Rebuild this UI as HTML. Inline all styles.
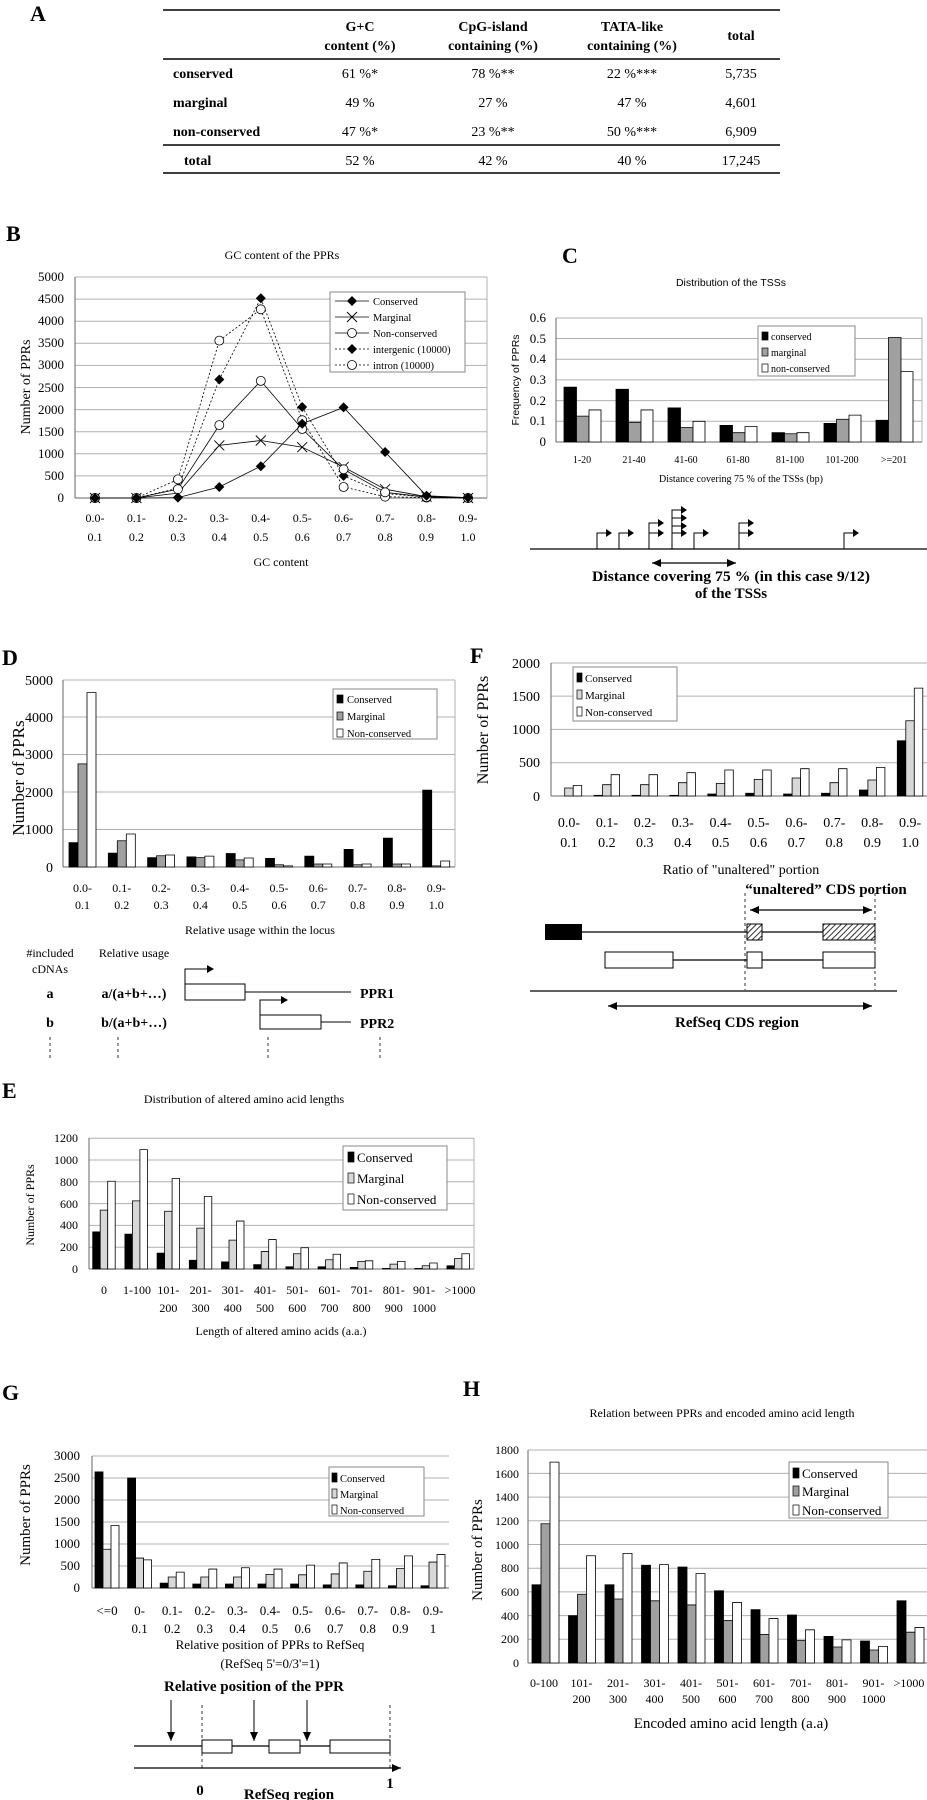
<!DOCTYPE html>
<html><head><meta charset="utf-8"><style>
body{margin:0;background:#fff}
svg{display:block}
text{font-family:"Liberation Serif",serif;fill:#000}
.s{font-family:"Liberation Sans",sans-serif}
.b{font-weight:bold}
.grid line{stroke:#b0b0b0;stroke-width:1}
.bars rect{stroke:#000;stroke-width:0.8;vector-effect:non-scaling-stroke}
.c{fill:#000}.m{fill:#a0a0a0}.ml{fill:#d8d8d8}.n{fill:#fff}
</style></head><body>
<svg width="927" height="1800" viewBox="0 0 927 1800" xmlns="http://www.w3.org/2000/svg">
<defs>
<marker id="dm" markerUnits="userSpaceOnUse" markerWidth="12" markerHeight="12" refX="6" refY="6"><path d="M6,1 L11,6 L6,11 L1,6Z" fill="#000"/></marker>
<marker id="om" markerUnits="userSpaceOnUse" markerWidth="12" markerHeight="12" refX="6" refY="6"><circle cx="6" cy="6" r="4.5" fill="#fff" stroke="#000" stroke-width="0.8"/></marker>
<marker id="xm" markerUnits="userSpaceOnUse" markerWidth="12" markerHeight="12" refX="6" refY="6"><path d="M1,1 L11,11 M11,1 L1,11" stroke="#000" stroke-width="0.9"/></marker>
<marker id="ah" markerUnits="userSpaceOnUse" markerWidth="10" markerHeight="10" refX="9" refY="5" orient="auto-start-reverse"><path d="M0,1 L9,5 L0,9Z" fill="#000"/></marker>
<pattern id="hatch" patternUnits="userSpaceOnUse" width="4" height="4" patternTransform="rotate(45)"><rect width="4" height="4" fill="#fff"/><line x1="0" y1="0" x2="0" y2="4" stroke="#000" stroke-width="1.6"/></pattern>
</defs>

<!-- A table -->
<text x="30" y="21" font-size="22" class="b">A</text>
<line x1="163" y1="10" x2="780" y2="10" stroke="#000" stroke-width="1.5"/>
<line x1="163" y1="59" x2="780" y2="59" stroke="#000" stroke-width="1.5"/>
<line x1="163" y1="145" x2="780" y2="145" stroke="#000" stroke-width="1.5"/>
<line x1="163" y1="173" x2="780" y2="173" stroke="#000" stroke-width="1.5"/>
<g font-size="14" class="b" text-anchor="middle">
<text x="360" y="31">G+C</text><text x="360" y="50">content (%)</text>
<text x="493" y="31">CpG-island</text><text x="493" y="50">containing (%)</text>
<text x="632" y="31">TATA-like</text><text x="632" y="50">containing (%)</text>
<text x="741" y="40">total</text>
</g>
<g font-size="14" class="b">
<text x="173" y="78">conserved</text><text x="173" y="107">marginal</text><text x="173" y="136">non-conserved</text><text x="184" y="165">total</text>
</g>
<g font-size="14" text-anchor="middle">
<text x="360" y="78">61 %*</text><text x="493" y="78">78 %**</text><text x="632" y="78">22 %***</text><text x="741" y="78">5,735</text>
<text x="360" y="107">49 %</text><text x="493" y="107">27 %</text><text x="632" y="107">47 %</text><text x="741" y="107">4,601</text>
<text x="360" y="136">47 %*</text><text x="493" y="136">23 %**</text><text x="632" y="136">50 %***</text><text x="741" y="136">6,909</text>
<text x="360" y="165">52 %</text><text x="493" y="165">42 %</text><text x="632" y="165">40 %</text><text x="741" y="165">17,245</text>
</g>

<!-- B -->
<text x="6" y="241" font-size="22" class="b">B</text>
<text x="282" y="259" font-size="12" text-anchor="middle">GC content of the PPRs</text>
<g class="grid"><line x1="75" x2="487" y1="475.9" y2="475.9"/><line x1="75" x2="487" y1="453.8" y2="453.8"/><line x1="75" x2="487" y1="431.7" y2="431.7"/><line x1="75" x2="487" y1="409.6" y2="409.6"/><line x1="75" x2="487" y1="387.5" y2="387.5"/><line x1="75" x2="487" y1="365.4" y2="365.4"/><line x1="75" x2="487" y1="343.3" y2="343.3"/><line x1="75" x2="487" y1="321.2" y2="321.2"/><line x1="75" x2="487" y1="299.1" y2="299.1"/><line x1="75" x2="487" y1="277" y2="277"/><line x1="487" x2="487" y1="277" y2="498"/></g>
<line x1="75" y1="277" x2="75" y2="498" stroke="#666"/><line x1="75" y1="498" x2="487" y2="498" stroke="#666"/>
<g font-size="13" text-anchor="end"><text x="64" y="502">0</text><text x="64" y="480">500</text><text x="64" y="458">1000</text><text x="64" y="436">1500</text><text x="64" y="414">2000</text><text x="64" y="392">2500</text><text x="64" y="369">3000</text><text x="64" y="347">3500</text><text x="64" y="325">4000</text><text x="64" y="303">4500</text><text x="64" y="281">5000</text></g>
<text transform="translate(30,387) rotate(-90)" font-size="14" text-anchor="middle">Number of PPRs</text>
<g fill="none" stroke="#000" stroke-width="0.8">
<polyline points="95,498 136.4,498 177.9,488.3 219.3,379.5 260.8,298.2 302.2,407 343.6,475.9 385.1,493.6 426.5,497.1 468,498" stroke-dasharray="2,2" marker-start="url(#dm)" marker-mid="url(#dm)" marker-end="url(#dm)"/>
<polyline points="95,498 136.4,498 177.9,479.4 219.3,340.6 260.8,309.3 302.2,420.2 343.6,487 385.1,496.7 426.5,497.6 468,498" stroke-dasharray="2,2" marker-start="url(#om)" marker-mid="url(#om)" marker-end="url(#om)"/>
<polyline points="95,498 136.4,498 177.9,493.1 219.3,445.4 260.8,440.5 302.2,447.2 343.6,467.1 385.1,489.2 426.5,496.7 468,498" marker-start="url(#xm)" marker-mid="url(#xm)" marker-end="url(#xm)"/>
<polyline points="95,498 136.4,498 177.9,489.2 219.3,425.1 260.8,380.9 302.2,429 343.6,469.3 385.1,492.3 426.5,497.1 468,498" marker-start="url(#om)" marker-mid="url(#om)" marker-end="url(#om)"/>
<polyline points="95,498 136.4,498 177.9,497.6 219.3,487 260.8,466.2 302.2,423.7 343.6,407.4 385.1,452 426.5,495.8 468,497.6" marker-start="url(#dm)" marker-mid="url(#dm)" marker-end="url(#dm)"/>
</g>
<rect x="330" y="292" width="135" height="80" fill="#fff" stroke="#888"/>
<g fill="none" stroke="#000" stroke-width="0.8">
<polyline points="335,301 352,301 369,301" marker-mid="url(#dm)"/>
<polyline points="335,317 352,317 369,317" marker-mid="url(#xm)"/>
<polyline points="335,333 352,333 369,333" marker-mid="url(#om)"/>
<polyline points="335,349 352,349 369,349" stroke-dasharray="2,2" marker-mid="url(#dm)"/>
<polyline points="335,365 352,365 369,365" stroke-dasharray="2,2" marker-mid="url(#om)"/>
</g>
<g font-size="10.5" class="s"><text x="373" y="305">Conserved</text><text x="373" y="321">Marginal</text><text x="373" y="337">Non-conserved</text><text x="373" y="353">intergenic (10000)</text><text x="373" y="369">intron (10000)</text></g>
<g font-size="12" text-anchor="middle">
<text x="95" y="522">0.0-</text><text x="136.4" y="522">0.1-</text><text x="177.9" y="522">0.2-</text><text x="219.3" y="522">0.3-</text><text x="260.8" y="522">0.4-</text><text x="302.2" y="522">0.5-</text><text x="343.6" y="522">0.6-</text><text x="385.1" y="522">0.7-</text><text x="426.5" y="522">0.8-</text><text x="468" y="522">0.9-</text>
<text x="95" y="541">0.1</text><text x="136.4" y="541">0.2</text><text x="177.9" y="541">0.3</text><text x="219.3" y="541">0.4</text><text x="260.8" y="541">0.5</text><text x="302.2" y="541">0.6</text><text x="343.6" y="541">0.7</text><text x="385.1" y="541">0.8</text><text x="426.5" y="541">0.9</text><text x="468" y="541">1.0</text>
<text x="281" y="566">GC content</text></g>

<!-- C -->
<text x="562" y="263" font-size="22" class="b">C</text>
<text x="731" y="286" font-size="10.5" class="s" text-anchor="middle">Distribution of the TSSs</text>
<g class="grid"><line x1="556" x2="922" y1="421.3" y2="421.3"/><line x1="556" x2="922" y1="400.6" y2="400.6"/><line x1="556" x2="922" y1="379.9" y2="379.9"/><line x1="556" x2="922" y1="359.2" y2="359.2"/><line x1="556" x2="922" y1="338.5" y2="338.5"/><line x1="556" x2="922" y1="318" y2="318"/><line x1="922" x2="922" y1="318" y2="442"/></g>
<line x1="556" y1="318" x2="556" y2="442" stroke="#666"/><line x1="556" y1="442" x2="922" y2="442" stroke="#666"/>
<g font-size="13" text-anchor="end"><text x="546" y="446">0</text><text x="546" y="425">0.1</text><text x="546" y="405">0.2</text><text x="546" y="384">0.3</text><text x="546" y="363">0.4</text><text x="546" y="343">0.5</text><text x="546" y="322">0.6</text></g>
<text transform="translate(519,380) rotate(-90)" font-size="10.5" class="s" text-anchor="middle">Frequency of PPRs</text>
<g class="bars" transform="translate(0,442) scale(1,-207)">
<g class="c"><rect x="564" y="0" width="12.5" height="0.265"/><rect x="616" y="0" width="12.5" height="0.255"/><rect x="668" y="0" width="12.5" height="0.165"/><rect x="720" y="0" width="12.5" height="0.08"/><rect x="772" y="0" width="12.5" height="0.045"/><rect x="824" y="0" width="12.5" height="0.09"/><rect x="876" y="0" width="12.5" height="0.105"/></g>
<g class="m"><rect x="576.5" y="0" width="12.5" height="0.125"/><rect x="628.5" y="0" width="12.5" height="0.095"/><rect x="680.5" y="0" width="12.5" height="0.07"/><rect x="732.5" y="0" width="12.5" height="0.045"/><rect x="784.5" y="0" width="12.5" height="0.04"/><rect x="836.5" y="0" width="12.5" height="0.11"/><rect x="888.5" y="0" width="12.5" height="0.505"/></g>
<g class="n"><rect x="589" y="0" width="12" height="0.155"/><rect x="641" y="0" width="12" height="0.155"/><rect x="693" y="0" width="12" height="0.1"/><rect x="745" y="0" width="12" height="0.075"/><rect x="797" y="0" width="12" height="0.045"/><rect x="849" y="0" width="12" height="0.13"/><rect x="901" y="0" width="12" height="0.34"/></g>
</g>
<rect x="758" y="326" width="97" height="50" fill="#fff" stroke="#888"/>
<rect x="762" y="332" width="6" height="8" class="c" stroke="#000" stroke-width="0.7"/><rect x="762" y="348" width="6" height="8" class="m" stroke="#000" stroke-width="0.7"/><rect x="762" y="364" width="6" height="8" class="n" stroke="#000" stroke-width="0.7"/>
<g font-size="10" class="s"><text x="771" y="340">conserved</text><text x="771" y="356">marginal</text><text x="771" y="372">non-conserved</text></g>
<g font-size="10" class="s" text-anchor="middle"><text x="582" y="463">1-20</text><text x="634" y="463">21-40</text><text x="686" y="463">41-60</text><text x="738" y="463">61-80</text><text x="790" y="463">81-100</text><text x="842" y="463">101-200</text><text x="894" y="463">&gt;=201</text>
<text x="741" y="482">Distance covering 75 % of the TSSs (bp)</text></g>
<!-- TSS diagram -->
<line x1="530" y1="549" x2="927" y2="549" stroke="#000" stroke-width="1.2"/>
<g stroke="#000" stroke-width="1" fill="none">
<path d="M597,549V533H606 M619,549V533H628 M649,549V523H658 M649,533H658 M672,549V510H681 M672,518H681 M672,526H681 M672,533H681 M694,549V533H703 M739,549V523H748 M739,533H748 M844,549V533H853"/>
</g>
<g fill="#000">
<path d="M606,529L612,533L606,537Z M628,529L634,533L628,537Z M658,519L664,523L658,527Z M658,529L664,533L658,537Z M681,506L687,510L681,514Z M681,514L687,518L681,522Z M681,522L687,526L681,530Z M681,529L687,533L681,537Z M703,529L709,533L703,537Z M748,519L754,523L748,527Z M748,529L754,533L748,537Z M853,529L859,533L853,537Z"/>
</g>
<line x1="652" y1="563" x2="736" y2="563" stroke="#000" stroke-width="1.2" marker-start="url(#ah)" marker-end="url(#ah)"/>
<text x="731" y="581" font-size="15" class="b" text-anchor="middle" textLength="278" lengthAdjust="spacingAndGlyphs">Distance covering 75 % (in this case 9/12)</text>
<text x="731" y="598" font-size="15" class="b" text-anchor="middle">of the TSSs</text>

<!-- D -->
<text x="2" y="665" font-size="22" class="b">D</text>
<g class="grid"><line x1="63" x2="455" y1="829.5" y2="829.5"/><line x1="63" x2="455" y1="792" y2="792"/><line x1="63" x2="455" y1="754.5" y2="754.5"/><line x1="63" x2="455" y1="717" y2="717"/><line x1="63" x2="455" y1="680" y2="680"/><line x1="455" x2="455" y1="680" y2="867"/></g>
<line x1="63" y1="680" x2="63" y2="867" stroke="#666"/><line x1="63" y1="867" x2="455" y2="867" stroke="#666"/>
<g font-size="14" text-anchor="end"><text x="53" y="872">0</text><text x="53" y="834">1000</text><text x="53" y="797">2000</text><text x="53" y="759">3000</text><text x="53" y="722">4000</text><text x="53" y="685">5000</text></g>
<text transform="translate(24,778) rotate(-90)" font-size="17" text-anchor="middle">Number of PPRs</text>
<g class="bars" transform="translate(0,867) scale(1,-0.0375)">
<g class="c"><rect x="69" y="0" width="9" height="650"/><rect x="108.3" y="0" width="9" height="370"/><rect x="147.6" y="0" width="9" height="250"/><rect x="186.9" y="0" width="9" height="270"/><rect x="226.2" y="0" width="9" height="360"/><rect x="265.5" y="0" width="9" height="230"/><rect x="304.8" y="0" width="9" height="290"/><rect x="344.1" y="0" width="9" height="470"/><rect x="383.4" y="0" width="9" height="770"/><rect x="422.7" y="0" width="9" height="2050"/></g>
<g class="m"><rect x="78" y="0" width="9" height="2750"/><rect x="117.3" y="0" width="9" height="700"/><rect x="156.6" y="0" width="9" height="300"/><rect x="195.9" y="0" width="9" height="250"/><rect x="235.2" y="0" width="9" height="190"/><rect x="274.5" y="0" width="9" height="60"/><rect x="313.8" y="0" width="9" height="80"/><rect x="353.1" y="0" width="9" height="60"/><rect x="392.4" y="0" width="9" height="80"/><rect x="431.7" y="0" width="9" height="30"/></g>
<g class="n"><rect x="87" y="0" width="9" height="4650"/><rect x="126.3" y="0" width="9" height="880"/><rect x="165.6" y="0" width="9" height="320"/><rect x="204.9" y="0" width="9" height="290"/><rect x="244.2" y="0" width="9" height="240"/><rect x="283.5" y="0" width="9" height="30"/><rect x="322.8" y="0" width="9" height="80"/><rect x="362.1" y="0" width="9" height="80"/><rect x="401.4" y="0" width="9" height="80"/><rect x="440.7" y="0" width="9" height="160"/></g>
</g>
<rect x="333" y="689" width="104" height="50" fill="#fff" stroke="#888"/>
<rect x="337" y="695" width="6" height="8" class="c" stroke="#000" stroke-width="0.7"/><rect x="337" y="712" width="6" height="8" class="m" stroke="#000" stroke-width="0.7"/><rect x="337" y="729" width="6" height="8" class="n" stroke="#000" stroke-width="0.7"/>
<g font-size="10.5" class="s"><text x="347" y="703">Conserved</text><text x="347" y="720">Marginal</text><text x="347" y="737">Non-conserved</text></g>
<g font-size="12" text-anchor="middle">
<text x="82.5" y="892">0.0-</text><text x="121.8" y="892">0.1-</text><text x="161.1" y="892">0.2-</text><text x="200.4" y="892">0.3-</text><text x="239.7" y="892">0.4-</text><text x="279" y="892">0.5-</text><text x="318.3" y="892">0.6-</text><text x="357.6" y="892">0.7-</text><text x="396.9" y="892">0.8-</text><text x="436.2" y="892">0.9-</text>
<text x="82.5" y="909">0.1</text><text x="121.8" y="909">0.2</text><text x="161.1" y="909">0.3</text><text x="200.4" y="909">0.4</text><text x="239.7" y="909">0.5</text><text x="279" y="909">0.6</text><text x="318.3" y="909">0.7</text><text x="357.6" y="909">0.8</text><text x="396.9" y="909">0.9</text><text x="436.2" y="909">1.0</text>
<text x="260" y="934">Relative usage within the locus</text>
<text x="50" y="957">#included</text><text x="50" y="973">cDNAs</text><text x="134" y="957">Relative usage</text></g>
<g font-size="14" class="b"><text x="50" y="998" text-anchor="middle">a</text><text x="50" y="1027" text-anchor="middle">b</text>
<text x="134" y="998" text-anchor="middle">a/(a+b+…)</text><text x="134" y="1027" text-anchor="middle">b/(a+b+…)</text>
<text x="360" y="998">PPR1</text><text x="360" y="1028">PPR2</text></g>
<g stroke="#000" stroke-width="1" fill="#fff">
<line x1="245" y1="992" x2="351" y2="992"/><rect x="185" y="984" width="60" height="16"/>
<line x1="321" y1="1022" x2="351" y2="1022"/><rect x="260" y="1015" width="61" height="14"/>
<path d="M185,984V969H208 M260,1015V1000H282" fill="none"/>
</g>
<path d="M207,965L214,969L207,973Z M281,996L288,1000L281,1004Z" fill="#000"/>
<g stroke="#000" stroke-width="0.8" stroke-dasharray="3,3"><line x1="50" y1="1037" x2="50" y2="1060"/><line x1="118" y1="1037" x2="118" y2="1060"/><line x1="268" y1="1037" x2="268" y2="1060"/><line x1="380" y1="1037" x2="380" y2="1060"/></g>

<!-- F -->
<text x="470" y="663" font-size="22" class="b">F</text>
<g class="grid"><line x1="551" x2="927" y1="762.7" y2="762.7"/><line x1="551" x2="927" y1="729.4" y2="729.4"/><line x1="551" x2="927" y1="696.1" y2="696.1"/><line x1="551" x2="927" y1="663" y2="663"/></g>
<line x1="551" y1="663" x2="551" y2="796" stroke="#666"/><line x1="551" y1="796" x2="927" y2="796" stroke="#666"/>
<g font-size="14" text-anchor="end"><text x="540" y="801">0</text><text x="540" y="767">500</text><text x="540" y="734">1000</text><text x="540" y="701">1500</text><text x="540" y="668">2000</text></g>
<text transform="translate(488,730) rotate(-90)" font-size="16" text-anchor="middle">Number of PPRs</text>
<g class="bars" transform="translate(0,796) scale(1,-0.0666)">
<g class="c"><rect x="556.2" y="0" width="8.5" height="0"/><rect x="594.1" y="0" width="8.5" height="10"/><rect x="632" y="0" width="8.5" height="10"/><rect x="669.9" y="0" width="8.5" height="10"/><rect x="707.8" y="0" width="8.5" height="30"/><rect x="745.7" y="0" width="8.5" height="40"/><rect x="783.6" y="0" width="8.5" height="30"/><rect x="821.5" y="0" width="8.5" height="40"/><rect x="859.4" y="0" width="8.5" height="90"/><rect x="897.3" y="0" width="8.5" height="830"/></g>
<g class="ml"><rect x="564.7" y="0" width="8.5" height="120"/><rect x="602.6" y="0" width="8.5" height="170"/><rect x="640.5" y="0" width="8.5" height="170"/><rect x="678.4" y="0" width="8.5" height="200"/><rect x="716.3" y="0" width="8.5" height="190"/><rect x="754.2" y="0" width="8.5" height="250"/><rect x="792.1" y="0" width="8.5" height="270"/><rect x="830" y="0" width="8.5" height="200"/><rect x="867.9" y="0" width="8.5" height="240"/><rect x="905.8" y="0" width="8.5" height="1130"/></g>
<g class="n"><rect x="573.2" y="0" width="8.5" height="160"/><rect x="611.1" y="0" width="8.5" height="320"/><rect x="649" y="0" width="8.5" height="320"/><rect x="686.9" y="0" width="8.5" height="350"/><rect x="724.8" y="0" width="8.5" height="390"/><rect x="762.7" y="0" width="8.5" height="390"/><rect x="800.6" y="0" width="8.5" height="410"/><rect x="838.5" y="0" width="8.5" height="410"/><rect x="876.4" y="0" width="8.5" height="430"/><rect x="914.3" y="0" width="8.5" height="1620"/></g>
</g>
<rect x="573" y="667" width="104" height="54" fill="#fff" stroke="#888"/>
<rect x="577" y="673" width="5" height="9" class="c" stroke="#000" stroke-width="0.7"/><rect x="577" y="690" width="5" height="9" class="ml" stroke="#000" stroke-width="0.7"/><rect x="577" y="707" width="5" height="9" class="n" stroke="#000" stroke-width="0.7"/>
<g font-size="11" class="s"><text x="585" y="682">Conserved</text><text x="585" y="699">Marginal</text><text x="585" y="716">Non-conserved</text></g>
<g font-size="14" text-anchor="middle">
<text x="569" y="827">0.0-</text><text x="606.9" y="827">0.1-</text><text x="644.8" y="827">0.2-</text><text x="682.7" y="827">0.3-</text><text x="720.6" y="827">0.4-</text><text x="758.5" y="827">0.5-</text><text x="796.4" y="827">0.6-</text><text x="834.3" y="827">0.7-</text><text x="872.2" y="827">0.8-</text><text x="910.1" y="827">0.9-</text>
<text x="569" y="847">0.1</text><text x="606.9" y="847">0.2</text><text x="644.8" y="847">0.3</text><text x="682.7" y="847">0.4</text><text x="720.6" y="847">0.5</text><text x="758.5" y="847">0.6</text><text x="796.4" y="847">0.7</text><text x="834.3" y="847">0.8</text><text x="872.2" y="847">0.9</text><text x="910.1" y="847">1.0</text>
<text x="741" y="874">Ratio of "unaltered" portion</text></g>
<text x="826" y="894" font-size="15" class="b" text-anchor="middle">“unaltered” CDS portion</text>
<line x1="750" y1="910" x2="872" y2="910" stroke="#000" stroke-width="1.2" marker-start="url(#ah)" marker-end="url(#ah)"/>
<g stroke="#000" stroke-width="0.8" stroke-dasharray="3,3"><line x1="745" y1="893" x2="745" y2="990"/><line x1="875" y1="893" x2="875" y2="990"/></g>
<g stroke="#000" stroke-width="1.2"><line x1="582" y1="932" x2="823" y2="932"/><line x1="673" y1="960" x2="823" y2="960"/><line x1="530" y1="991" x2="897" y2="991"/></g>
<rect x="545" y="924" width="37" height="16" fill="#000"/>
<g stroke="#000" stroke-width="1"><rect x="747" y="924" width="15" height="16" fill="url(#hatch)"/><rect x="823" y="924" width="52" height="16" fill="url(#hatch)"/>
<rect x="605" y="952" width="68" height="16" fill="#fff"/><rect x="747" y="952" width="15" height="16" fill="#fff"/><rect x="823" y="952" width="52" height="16" fill="#fff"/></g>
<line x1="608" y1="1006" x2="872" y2="1006" stroke="#000" stroke-width="1.2" marker-start="url(#ah)" marker-end="url(#ah)"/>
<text x="737" y="1027" font-size="15" class="b" text-anchor="middle">RefSeq CDS region</text>

<!-- E -->
<text x="2" y="1098" font-size="22" class="b">E</text>
<text x="244" y="1103" font-size="12" text-anchor="middle">Distribution of altered amino acid lengths</text>
<g class="grid"><line x1="89" x2="474" y1="1247.2" y2="1247.2"/><line x1="89" x2="474" y1="1225.4" y2="1225.4"/><line x1="89" x2="474" y1="1203.6" y2="1203.6"/><line x1="89" x2="474" y1="1181.8" y2="1181.8"/><line x1="89" x2="474" y1="1160" y2="1160"/><line x1="89" x2="474" y1="1138.2" y2="1138.2"/><line x1="474" x2="474" y1="1138" y2="1269"/></g>
<line x1="89" y1="1138" x2="89" y2="1269" stroke="#666"/><line x1="89" y1="1269" x2="474" y2="1269" stroke="#666"/>
<g font-size="12" text-anchor="end"><text x="78" y="1273">0</text><text x="78" y="1251">200</text><text x="78" y="1229">400</text><text x="78" y="1208">600</text><text x="78" y="1186">800</text><text x="78" y="1164">1000</text><text x="78" y="1142">1200</text></g>
<text transform="translate(34,1205) rotate(-90)" font-size="12" text-anchor="middle">Number of PPRs</text>
<g class="bars" transform="translate(0,1269) scale(1,-0.109)">
<g class="c"><rect x="92.7" y="0" width="7.5" height="340"/><rect x="124.9" y="0" width="7.5" height="320"/><rect x="157.1" y="0" width="7.5" height="145"/><rect x="189.3" y="0" width="7.5" height="80"/><rect x="221.5" y="0" width="7.5" height="65"/><rect x="253.7" y="0" width="7.5" height="40"/><rect x="285.9" y="0" width="7.5" height="20"/><rect x="318.1" y="0" width="7.5" height="20"/><rect x="350.3" y="0" width="7.5" height="15"/><rect x="382.5" y="0" width="7.5" height="5"/><rect x="414.7" y="0" width="7.5" height="5"/><rect x="446.9" y="0" width="7.5" height="30"/></g>
<g class="ml"><rect x="100.2" y="0" width="7.5" height="540"/><rect x="132.4" y="0" width="7.5" height="625"/><rect x="164.6" y="0" width="7.5" height="530"/><rect x="196.8" y="0" width="7.5" height="375"/><rect x="229" y="0" width="7.5" height="265"/><rect x="261.2" y="0" width="7.5" height="160"/><rect x="293.4" y="0" width="7.5" height="140"/><rect x="325.6" y="0" width="7.5" height="85"/><rect x="357.8" y="0" width="7.5" height="70"/><rect x="390" y="0" width="7.5" height="45"/><rect x="422.2" y="0" width="7.5" height="30"/><rect x="454.4" y="0" width="7.5" height="95"/></g>
<g class="n"><rect x="107.7" y="0" width="7.5" height="805"/><rect x="139.9" y="0" width="7.5" height="1095"/><rect x="172.1" y="0" width="7.5" height="830"/><rect x="204.3" y="0" width="7.5" height="665"/><rect x="236.5" y="0" width="7.5" height="440"/><rect x="268.7" y="0" width="7.5" height="270"/><rect x="300.9" y="0" width="7.5" height="195"/><rect x="333.1" y="0" width="7.5" height="135"/><rect x="365.3" y="0" width="7.5" height="75"/><rect x="397.5" y="0" width="7.5" height="70"/><rect x="429.7" y="0" width="7.5" height="55"/><rect x="461.9" y="0" width="7.5" height="140"/></g>
</g>
<rect x="343" y="1146" width="104" height="64" fill="#fff" stroke="#888"/>
<rect x="348" y="1152" width="6" height="10" class="c" stroke="#000" stroke-width="0.7"/><rect x="348" y="1173" width="6" height="10" class="ml" stroke="#000" stroke-width="0.7"/><rect x="348" y="1194" width="6" height="10" class="n" stroke="#000" stroke-width="0.7"/>
<g font-size="13"><text x="357" y="1162">Conserved</text><text x="357" y="1183">Marginal</text><text x="357" y="1204">Non-conserved</text></g>
<g font-size="12" text-anchor="middle">
<text x="104" y="1294">0</text><text x="137" y="1294">1-100</text><text x="168.4" y="1294">101-</text><text x="200.6" y="1294">201-</text><text x="232.8" y="1294">301-</text><text x="265" y="1294">401-</text><text x="297.2" y="1294">501-</text><text x="329.4" y="1294">601-</text><text x="361.6" y="1294">701-</text><text x="393.8" y="1294">801-</text><text x="424" y="1294">901-</text><text x="460" y="1294">&gt;1000</text>
<text x="168.4" y="1312">200</text><text x="200.6" y="1312">300</text><text x="232.8" y="1312">400</text><text x="265" y="1312">500</text><text x="297.2" y="1312">600</text><text x="329.4" y="1312">700</text><text x="361.6" y="1312">800</text><text x="393.8" y="1312">900</text><text x="424" y="1312">1000</text>
<text x="281" y="1335">Length of altered amino acids (a.a.)</text></g>

<!-- G -->
<text x="2" y="1400" font-size="22" class="b">G</text>
<g class="grid"><line x1="92" x2="449" y1="1566" y2="1566"/><line x1="92" x2="449" y1="1544" y2="1544"/><line x1="92" x2="449" y1="1522" y2="1522"/><line x1="92" x2="449" y1="1500" y2="1500"/><line x1="92" x2="449" y1="1478" y2="1478"/><line x1="92" x2="449" y1="1456" y2="1456"/></g>
<line x1="92" y1="1456" x2="92" y2="1588" stroke="#666"/><line x1="92" y1="1588" x2="449" y2="1588" stroke="#666"/>
<g font-size="13" text-anchor="end"><text x="80" y="1592">0</text><text x="80" y="1570">500</text><text x="80" y="1548">1000</text><text x="80" y="1526">1500</text><text x="80" y="1504">2000</text><text x="80" y="1482">2500</text><text x="80" y="1460">3000</text></g>
<text transform="translate(30,1515) rotate(-90)" font-size="15" text-anchor="middle">Number of PPRs</text>
<g class="bars" transform="translate(0,1588) scale(1,-0.044)">
<g class="c"><rect x="95" y="0" width="8" height="2640"/><rect x="127.6" y="0" width="8" height="2500"/><rect x="160.2" y="0" width="8" height="110"/><rect x="192.8" y="0" width="8" height="90"/><rect x="225.4" y="0" width="8" height="90"/><rect x="258" y="0" width="8" height="90"/><rect x="290.6" y="0" width="8" height="90"/><rect x="323.2" y="0" width="8" height="70"/><rect x="355.8" y="0" width="8" height="70"/><rect x="388.4" y="0" width="8" height="50"/><rect x="421" y="0" width="8" height="50"/></g>
<g class="ml"><rect x="103" y="0" width="8" height="880"/><rect x="135.6" y="0" width="8" height="680"/><rect x="168.2" y="0" width="8" height="250"/><rect x="200.8" y="0" width="8" height="250"/><rect x="233.4" y="0" width="8" height="250"/><rect x="266" y="0" width="8" height="310"/><rect x="298.6" y="0" width="8" height="300"/><rect x="331.2" y="0" width="8" height="320"/><rect x="363.8" y="0" width="8" height="380"/><rect x="396.4" y="0" width="8" height="440"/><rect x="429" y="0" width="8" height="590"/></g>
<g class="n"><rect x="111" y="0" width="8" height="1420"/><rect x="143.6" y="0" width="8" height="640"/><rect x="176.2" y="0" width="8" height="360"/><rect x="208.8" y="0" width="8" height="430"/><rect x="241.4" y="0" width="8" height="460"/><rect x="274" y="0" width="8" height="430"/><rect x="306.6" y="0" width="8" height="520"/><rect x="339.2" y="0" width="8" height="570"/><rect x="371.8" y="0" width="8" height="650"/><rect x="404.4" y="0" width="8" height="730"/><rect x="437" y="0" width="8" height="760"/></g>
</g>
<rect x="329" y="1467" width="95" height="49" fill="#fff" stroke="#888"/>
<rect x="332" y="1473" width="5" height="9" class="c" stroke="#000" stroke-width="0.7"/><rect x="332" y="1489" width="5" height="9" class="ml" stroke="#000" stroke-width="0.7"/><rect x="332" y="1505" width="5" height="9" class="n" stroke="#000" stroke-width="0.7"/>
<g font-size="10.5" class="s"><text x="340" y="1482">Conserved</text><text x="340" y="1498">Marginal</text><text x="340" y="1514">Non-conserved</text></g>
<g font-size="13" text-anchor="middle">
<text x="107" y="1615">&lt;=0</text><text x="139.6" y="1615">0-</text><text x="172.2" y="1615">0.1-</text><text x="204.8" y="1615">0.2-</text><text x="237.4" y="1615">0.3-</text><text x="270" y="1615">0.4-</text><text x="302.6" y="1615">0.5-</text><text x="335.2" y="1615">0.6-</text><text x="367.8" y="1615">0.7-</text><text x="400.4" y="1615">0.8-</text><text x="433" y="1615">0.9-</text>
<text x="139.6" y="1633">0.1</text><text x="172.2" y="1633">0.2</text><text x="204.8" y="1633">0.3</text><text x="237.4" y="1633">0.4</text><text x="270" y="1633">0.5</text><text x="302.6" y="1633">0.6</text><text x="335.2" y="1633">0.7</text><text x="367.8" y="1633">0.8</text><text x="400.4" y="1633">0.9</text><text x="433" y="1633">1</text>
<text x="270" y="1649">Relative position of PPRs to RefSeq</text><text x="270" y="1668">(RefSeq 5'=0/3'=1)</text></g>
<text x="254" y="1691" font-size="15" class="b" text-anchor="middle">Relative position of the PPR</text>
<g stroke="#000" stroke-width="1"><line x1="171" y1="1700" x2="171" y2="1741" marker-end="url(#ah)"/><line x1="254" y1="1700" x2="254" y2="1741" marker-end="url(#ah)"/><line x1="307" y1="1700" x2="307" y2="1741" marker-end="url(#ah)"/></g>
<g stroke="#000" stroke-width="1.2"><line x1="134" y1="1746" x2="330" y2="1746"/></g>
<g stroke="#000" stroke-width="1" fill="#fff"><rect x="202" y="1740" width="30" height="13"/><rect x="269" y="1740" width="31" height="13"/><rect x="330" y="1740" width="60" height="13"/></g>
<g stroke="#000" stroke-width="0.8" stroke-dasharray="3,3"><line x1="202" y1="1705" x2="202" y2="1768"/><line x1="390" y1="1705" x2="390" y2="1768"/></g>
<line x1="134" y1="1768" x2="401" y2="1768" stroke="#000" stroke-width="1.2" marker-end="url(#ah)"/>
<g font-size="15" class="b" text-anchor="middle"><text x="200" y="1795">0</text><text x="390" y="1788">1</text><text x="289" y="1799">RefSeq region</text></g>

<!-- H -->
<text x="463" y="1396" font-size="22" class="b">H</text>
<text x="722" y="1417" font-size="12" text-anchor="middle">Relation between PPRs and encoded amino acid length</text>
<g class="grid"><line x1="528" x2="927" y1="1639.3" y2="1639.3"/><line x1="528" x2="927" y1="1615.6" y2="1615.6"/><line x1="528" x2="927" y1="1591.9" y2="1591.9"/><line x1="528" x2="927" y1="1568.2" y2="1568.2"/><line x1="528" x2="927" y1="1544.5" y2="1544.5"/><line x1="528" x2="927" y1="1520.8" y2="1520.8"/><line x1="528" x2="927" y1="1497.1" y2="1497.1"/><line x1="528" x2="927" y1="1473.4" y2="1473.4"/><line x1="528" x2="927" y1="1450" y2="1450"/></g>
<line x1="528" y1="1450" x2="528" y2="1663" stroke="#666"/><line x1="528" y1="1663" x2="927" y2="1663" stroke="#666"/>
<g font-size="12" text-anchor="end"><text x="519" y="1667">0</text><text x="519" y="1643">200</text><text x="519" y="1620">400</text><text x="519" y="1596">600</text><text x="519" y="1572">800</text><text x="519" y="1549">1000</text><text x="519" y="1525">1200</text><text x="519" y="1501">1400</text><text x="519" y="1478">1600</text><text x="519" y="1454">1800</text></g>
<text transform="translate(482,1550) rotate(-90)" font-size="15" text-anchor="middle">Number of PPRs</text>
<g class="bars" transform="translate(0,1663) scale(1,-0.1185)">
<g class="c"><rect x="532" y="0" width="9" height="660"/><rect x="568.5" y="0" width="9" height="400"/><rect x="605" y="0" width="9" height="660"/><rect x="641.5" y="0" width="9" height="825"/><rect x="678" y="0" width="9" height="810"/><rect x="714.5" y="0" width="9" height="610"/><rect x="751" y="0" width="9" height="450"/><rect x="787.5" y="0" width="9" height="405"/><rect x="824" y="0" width="9" height="225"/><rect x="860.5" y="0" width="9" height="185"/><rect x="897" y="0" width="9" height="525"/></g>
<g class="m"><rect x="541" y="0" width="9" height="1175"/><rect x="577.5" y="0" width="9" height="580"/><rect x="614" y="0" width="9" height="540"/><rect x="650.5" y="0" width="9" height="525"/><rect x="687" y="0" width="9" height="490"/><rect x="723.5" y="0" width="9" height="360"/><rect x="760" y="0" width="9" height="240"/><rect x="796.5" y="0" width="9" height="190"/><rect x="833" y="0" width="9" height="135"/><rect x="869.5" y="0" width="9" height="110"/><rect x="906" y="0" width="9" height="260"/></g>
<g class="n"><rect x="550" y="0" width="9" height="1695"/><rect x="586.5" y="0" width="9" height="905"/><rect x="623" y="0" width="9" height="925"/><rect x="659.5" y="0" width="9" height="830"/><rect x="696" y="0" width="9" height="755"/><rect x="732.5" y="0" width="9" height="510"/><rect x="769" y="0" width="9" height="375"/><rect x="805.5" y="0" width="9" height="280"/><rect x="842" y="0" width="9" height="195"/><rect x="878.5" y="0" width="9" height="140"/><rect x="915" y="0" width="9" height="300"/></g>
</g>
<rect x="789" y="1462" width="99" height="56" fill="#fff" stroke="#888"/>
<rect x="793" y="1468" width="6" height="10" class="c" stroke="#000" stroke-width="0.7"/><rect x="793" y="1486" width="6" height="10" class="m" stroke="#000" stroke-width="0.7"/><rect x="793" y="1505" width="6" height="10" class="n" stroke="#000" stroke-width="0.7"/>
<g font-size="13"><text x="802" y="1478">Conserved</text><text x="802" y="1496">Marginal</text><text x="802" y="1515">Non-conserved</text></g>
<g font-size="12" text-anchor="middle">
<text x="544" y="1687">0-100</text><text x="581.5" y="1687">101-</text><text x="618" y="1687">201-</text><text x="654.5" y="1687">301-</text><text x="691" y="1687">401-</text><text x="727.5" y="1687">501-</text><text x="764" y="1687">601-</text><text x="800.5" y="1687">701-</text><text x="837" y="1687">801-</text><text x="873.5" y="1687">901-</text><text x="909" y="1687">&gt;1000</text>
<text x="581.5" y="1703">200</text><text x="618" y="1703">300</text><text x="654.5" y="1703">400</text><text x="691" y="1703">500</text><text x="727.5" y="1703">600</text><text x="764" y="1703">700</text><text x="800.5" y="1703">800</text><text x="837" y="1703">900</text><text x="873.5" y="1703">1000</text></g>
<text x="731" y="1728" font-size="15" text-anchor="middle">Encoded amino acid length (a.a)</text>
</svg>
</body></html>
